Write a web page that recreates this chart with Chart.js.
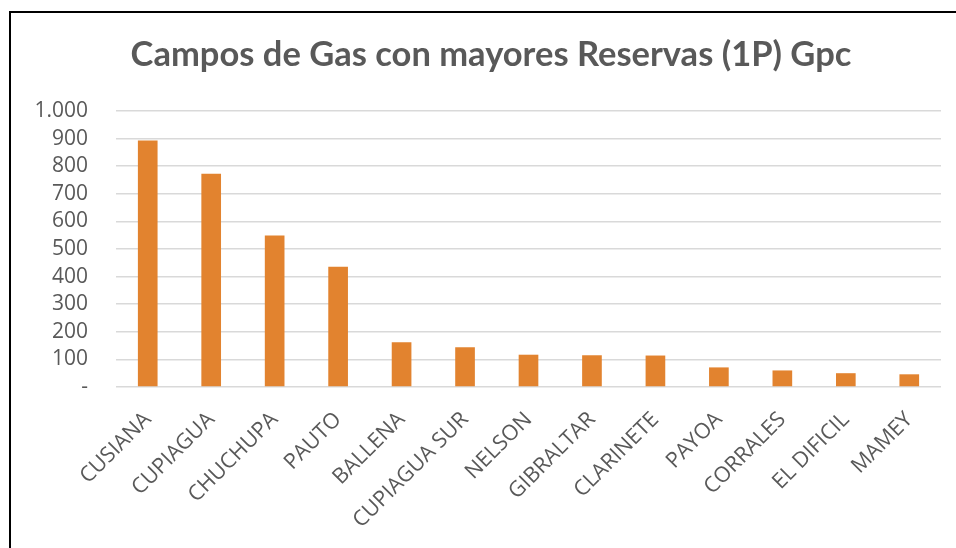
<!DOCTYPE html>
<html>
<head>
<meta charset="utf-8">
<script src="https://cdn.jsdelivr.net/npm/chart.js@4"></script>
<style>
  html, body { margin: 0; padding: 0; background: #fff; overflow: hidden; }
  #wrap { position: relative; width: 956px; height: 548px; }
  #frame {
    position: absolute; left: 9px; top: 11px; width: 1000px; height: 600px;
    border-left: 2px solid #000; border-top: 2px solid #000; pointer-events: none;
  }
</style>
</head>
<body>
<div id="wrap">
  <canvas id="gasChart" width="956" height="548"></canvas>
  <div id="frame"></div>
</div>
<script>
const campos = [
  "CUSIANA", "CUPIAGUA", "CHUCHUPA", "PAUTO", "BALLENA", "CUPIAGUA SUR",
  "NELSON", "GIBRALTAR", "CLARINETE", "PAYOA", "CORRALES", "EL DIFICIL", "MAMEY"
];
const reservas = [893, 773, 549, 436, 162, 144, 117, 115, 114, 71, 60, 50, 46];
const yTicks = { min: 0, max: 1000, step: 100 };
const titulo = "Campos de Gas con mayores Reservas (1P) Gpc";

const grayText = "#595959";
const axisFont = "'Open Sans'";

function formatTick(v) {
  if (v === 0) return "-";
  return v.toString().replace(/\B(?=(\d{3})+(?!\d))/g, ".");
}

document.addEventListener("DOMContentLoaded", async () => {
  try {
    await document.fonts.load("21px 'Open Sans'");
    await document.fonts.load("bold 34px Lato");
  } catch (e) {
    console.error("font load failed", e);
  }

  const ctx = document.getElementById("gasChart").getContext("2d");
  new Chart(ctx, {
    type: "bar",
    data: {
      labels: campos,
      datasets: [
        {
          label: "Reservas 1P",
          data: reservas,
          backgroundColor: "#E2832F",
          categoryPercentage: 1,
          barPercentage: 0.31,
        },
      ],
    },
    options: {
      responsive: false,
      animation: false,
      layout: {
        padding: { left: 28, right: 2, top: 0, bottom: 0 },
      },
      plugins: {
        legend: { display: false },
        tooltip: { enabled: false },
        title: {
          display: true,
          text: titulo,
          color: grayText,
          font: { family: "Lato", size: 34.5, weight: "bold", lineHeight: 1.2 },
          padding: { top: 34, bottom: 35.6 },
        },
      },
      scales: {
        x: {
          grid: { display: false },
          border: { display: false },
          afterFit: (scale) => {
            scale.height = 161;
          },
          ticks: {
            color: grayText,
            font: { family: axisFont, size: 21.5 },
            minRotation: 45,
            maxRotation: 45,
            autoSkip: false,
            padding: 12,
          },
        },
        y: {
          min: yTicks.min,
          max: yTicks.max,
          grid: { color: "#D9D9D9", lineWidth: 1.5, drawTicks: false },
          border: { display: false },
          afterFit: (scale) => {
            scale.width = 88;
          },
          ticks: {
            stepSize: yTicks.step,
            autoSkip: false,
            color: grayText,
            font: { family: axisFont, size: 21 },
            padding: 28,
            callback: (v) => formatTick(v),
          },
        },
        // empty right-hand spacer so the title centres like the original
        spacer: {
          position: "right",
          min: 0,
          max: 1,
          grid: { display: false },
          border: { display: false },
          ticks: { display: false },
          afterFit: (scale) => {
            scale.width = 13;
          },
        },
      },
    },
  });
});
</script>
</body>
</html>
